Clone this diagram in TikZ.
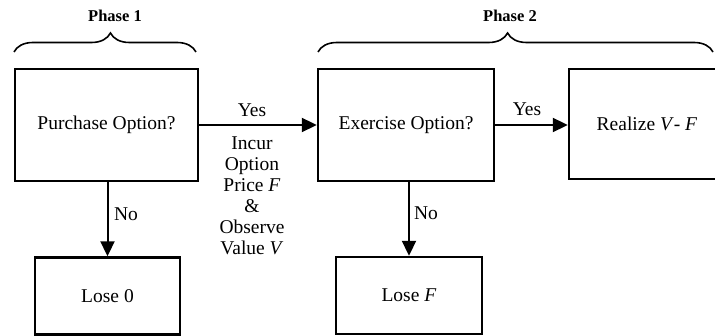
\documentclass[tikz,border=0pt]{standalone}
\usepackage{fontspec}
\setmainfont{Liberation Serif}
\usetikzlibrary{arrows.meta,decorations.pathreplacing}

\begin{document}
\begin{tikzpicture}[x=1pt,y=-1pt,
  every node/.style={font=\fontsize{19.5}{21}\selectfont},
  decisionbox/.style={draw,line width=2.4pt,inner sep=0pt,minimum height=112pt},
  outcomebox/.style={draw,line width=2.4pt,inner sep=0pt,minimum height=77pt},
  flow/.style={line width=2pt,-{Triangle[length=15pt,width=14pt]}},
  phasebrace/.style={line width=1.6pt,decorate,decoration={brace,amplitude=19pt}},
  phaselabel/.style={font=\fontsize{16.5}{18}\selectfont\bfseries},
  edgelabel/.style={inner sep=0pt}
]
\clip (0,0) rectangle (715,336);

% phase braces and headings
\draw[phasebrace,decoration={aspect=0.53}] (14,52) -- (196,52);
\draw[phasebrace,decoration={aspect=0.48}] (318,52) -- (713,52);
\node[phaselabel] (p1) at (115,16) {Phase 1};
\node[phaselabel] (p2) at (510,16) {Phase 2};

% decision and outcome boxes
\node[decisionbox,minimum width=183pt] (buy) at (106.5,125) {Purchase Option?};
\node[decisionbox,minimum width=176pt] (exercise) at (406,125) {Exercise Option?};
\node[decisionbox,minimum width=156pt,minimum height=110pt] (realize) at (647,124) {Realize \textit{V}- \textit{F}};
\node[outcomebox,minimum width=145pt] (lose0) at (107.5,296) {Lose 0};
\node[outcomebox,minimum width=146pt] (loseF) at (409,295.5) {Lose \textit{F}};

% connectors
\draw[flow] (buy.east) -- (exercise.west);
\draw[flow] (exercise.east) -- (exercise.east -| realize.west);
\draw[flow] (lose0.north |- buy.south) -- (lose0.north);
\draw[flow] (loseF.north |- exercise.south) -- (loseF.north);

% connector labels
\node[edgelabel] (yes1) at (252,110) {Yes};
\node[edgelabel,align=center] (cost) at (252,196) {Incur\\Option\\Price \textit{F}\\\&\\Observe\\Value \textit{V}};
\node[edgelabel] (yes2) at (527,109) {Yes};
\node[edgelabel] (no1) at (126,214) {No};
\node[edgelabel] (no2) at (426,213) {No};
\end{tikzpicture}
\end{document}
